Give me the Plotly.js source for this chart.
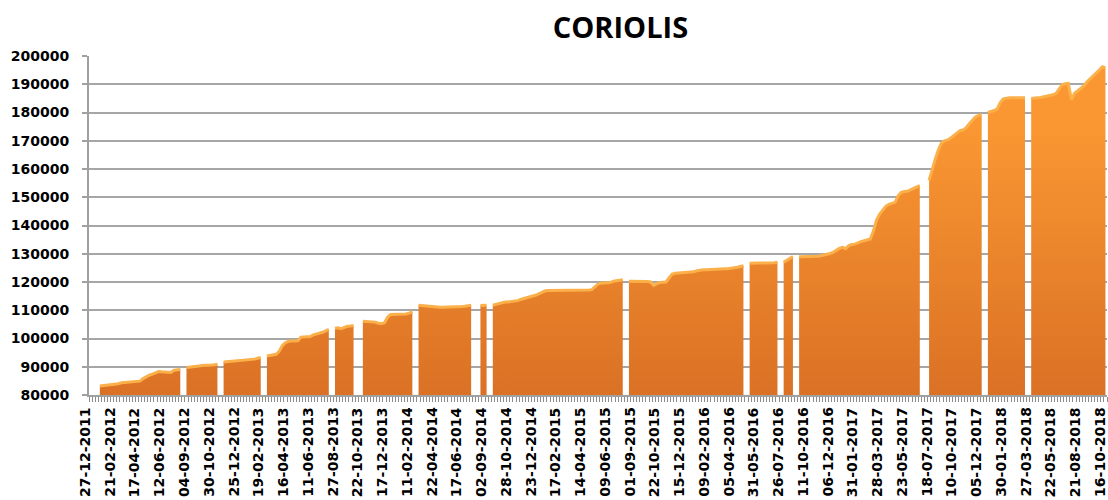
<!DOCTYPE html>
<html>
<head>
<meta charset="utf-8">
<script src="https://cdn.plot.ly/plotly-3.0.1.min.js"></script>
<style>
  html, body { margin: 0; padding: 0; background: #ffffff; }
  #chart { width: 1108px; height: 500px; }
</style>
</head>
<body>
<div id="chart"></div>
<script>
// Tick labels shown every 8th weekly category
const tickLabels = [
  "27-12-2011","21-02-2012","17-04-2012","12-06-2012","04-09-2012","30-10-2012",
  "25-12-2012","19-02-2013","16-04-2013","11-06-2013","27-08-2013","22-10-2013",
  "17-12-2013","11-02-2014","22-04-2014","17-06-2014","02-09-2014","28-10-2014",
  "23-12-2014","17-02-2015","14-04-2015","09-06-2015","01-09-2015","22-10-2015",
  "15-12-2015","09-02-2016","05-04-2016","31-05-2016","26-07-2016","11-10-2016",
  "06-12-2016","31-01-2017","28-03-2017","23-05-2017","18-07-2017","10-10-2017",
  "05-12-2017","30-01-2018","27-03-2018","22-05-2018","21-08-2018","16-10-2018"
];
const labelStep = 8;

// Weekly values (null = missing week, drawn as a gap)
const weeklyValues = [
  null, null, null,
  // 2012
  83200, 83300, 83400, 83500, 83800, 83900, 84000, 84300, 84400, 84500,
  84700, 84800, 84800, 84900, 85800, 86500, 87000, 87400, 87900, 88300,
  88200, 88100, 88000, 88000, 88800, 88900, 89000,
  null,
  89700, 89900, 90100, 90200, 90300, 90400, 90400, 90500, 90600, 90700, 90900,
  null,
  91700, 91800, 91900, 92000, 92100, 92300, 92400, 92500, 92600, 92500, 92700, 93000, 93300,
  null,
  // 2013
  93800, 94000, 94200, 94400, 95500, 97500, 98500, 99000, 99100, 99100,
  99200, 100500, 100600, 100700, 100700, 101300, 101600, 101800, 102200, 102700,
  103200,
  null,
  103600, 103800, 103500, 104000, 104300, 104400, 104600,
  null, null,
  106100, 106000, 105900, 105900, 105800, 105400, 105200, 105600, 107500, 108500,
  108500, 108500, 108600, 108600, 108700, 109000, 109500,
  null,
  // 2014
  111800, 111700, 111500, 111300, 111200, 111100, 111100, 111100, 111100, 111100,
  111100, 111100, 111100, 111200, 111300, 111400, 111600, 111800,
  null, null,
  111700, 111700, 111800,
  null,
  111800, 112100, 112500, 112800, 112900, 112900, 113000, 113100, 113400, 113800,
  114100, 114500, 114600, 115000, 115400, 115900, 116500, 116900, 117000, 117000,
  117100, 117100, 117100, 117100, 117100, 117100, 117100, 117100, 117100, 117100,
  117200, 117200, 117300, 118300, 119300, 119600, 119700, 119700, 119800, 120300,
  120500, 120700, 120800,
  null,
  // 2015-2016
  120300, 120300, 120300, 120300, 120300, 120300, 120200, 120000, 118800, 119400,
  119800, 119900, 120000, 121500, 122800, 123100, 123200, 123200, 123200, 123300,
  123400, 123600, 124000, 124200, 124300, 124300, 124400, 124400, 124500, 124600,
  124600, 124700, 124700, 124800, 124900, 125200, 125500, 125800,
  null,
  126600, 126700, 126700, 126700, 126700, 126700, 126700, 126700, 126800, 127000,
  null,
  127000, 127600, 128300, 129000,
  null,
  // 2016-2017
  128900, 128900, 128900, 128900, 128900, 129000, 129100, 129300, 129500, 129700,
  130100, 130500, 131300, 131900, 132300, 131800, 132800, 133300, 133400, 133900,
  134300, 134600, 134900, 135200, 138000, 141800, 144000, 145400, 146800, 147500,
  147900, 148200, 150500, 151700, 152000, 152100, 152600, 153200, 153700, 154100,
  null, null,
  156000, 160000, 163500, 166800, 169200, 170000, 170300, 171000, 171800, 172800,
  173600, 173800, 174600, 176000, 177300, 178400, 179000, 179200,
  null,
  // 2018
  180000, 180300, 180700, 181200, 183500, 184800, 185100, 185200, 185200, 185200,
  185200, 185200, 185200,
  null,
  185000, 185000, 185200, 185300, 185500, 185800, 186000, 186300, 186700, 188500,
  189800, 190200, 190300, 184500, 186800, 187600, 188400, 189400, 190800, 191800,
  193000, 194000, 195000, 196200, 195800
];

const labelShift = 1.8; // category labels sit slightly left of their week
const xRange = [-0.5, weeklyValues.length - 0.5];

// Split the series into runs of consecutive non-null weeks (each run is its own area)
const runs = [];
let cur = null;
weeklyValues.forEach((v, i) => {
  if (v === null) { cur = null; return; }
  if (!cur) { cur = { x: [], y: [] }; runs.push(cur); }
  cur.x.push(i);
  cur.y.push(v);
});

const gradient = {
  type: 'vertical',
  start: 80000,
  stop: 175000,
  colorscale: [[0, '#da7125'], [1, '#fa9732']]
};

const traces = runs.map(r => ({
  type: 'scatter', mode: 'lines', x: r.x, y: r.y,
  fill: 'tozeroy', fillgradient: gradient,
  line: { color: '#fbb04a', width: 3 },
  hoverinfo: 'x+y', showlegend: false
}));

const labelFont = { family: 'DejaVu Sans, sans-serif', size: 14, color: '#000000', weight: 'bold' };
const toPaper = v => (v - xRange[0]) / (xRange[1] - xRange[0]);

const annotations = tickLabels.map((t, i) => ({
  text: '<b>' + t + '</b>',
  x: toPaper(i * labelStep - labelShift), xref: 'paper',
  y: 0, yref: 'paper',
  xanchor: 'center', yanchor: 'top',
  yshift: -10,
  textangle: -90,
  showarrow: false,
  font: labelFont
}));

const layout = {
  width: 1108,
  height: 500,
  margin: { l: 89, r: 1, t: 56, b: 105, pad: 0 },
  paper_bgcolor: '#ffffff',
  plot_bgcolor: '#ffffff',
  title: {
    text: '<b>CORIOLIS</b>',
    font: { family: 'Open Sans, Liberation Sans, sans-serif', size: 29, color: '#000000' },
    x: 0.56, xref: 'container', xanchor: 'center',
    y: 0.944, yref: 'container', yanchor: 'middle'
  },
  annotations: annotations,
  xaxis: {
    type: 'linear',
    range: xRange,
    tickmode: 'linear',
    tick0: -0.5,
    dtick: 1,
    ticks: 'outside',
    ticklen: 5,
    tickwidth: 1,
    tickcolor: '#8c8c8c',
    showticklabels: false,
    showgrid: false,
    zeroline: false,
    showline: true,
    linecolor: '#a0a0a0',
    linewidth: 2,
    fixedrange: true
  },
  yaxis: {
    range: [80000, 200000],
    tickmode: 'linear',
    tick0: 80000,
    dtick: 10000,
    tickformat: 'd',
    ticks: 'outside',
    ticklen: 5,
    tickcolor: '#a0a0a0',
    tickwidth: 2,
    ticklabelstandoff: 10,
    tickfont: { family: 'DejaVu Sans, sans-serif', size: 14, color: '#000000', weight: 'bold' },
    showgrid: true,
    gridcolor: '#a6a6a6',
    gridwidth: 2,
    zeroline: false,
    showline: true,
    linecolor: '#a0a0a0',
    linewidth: 2,
    fixedrange: true
  }
};

Plotly.newPlot('chart', traces, layout, { staticPlot: true, displayModeBar: false });
</script>
</body>
</html>
